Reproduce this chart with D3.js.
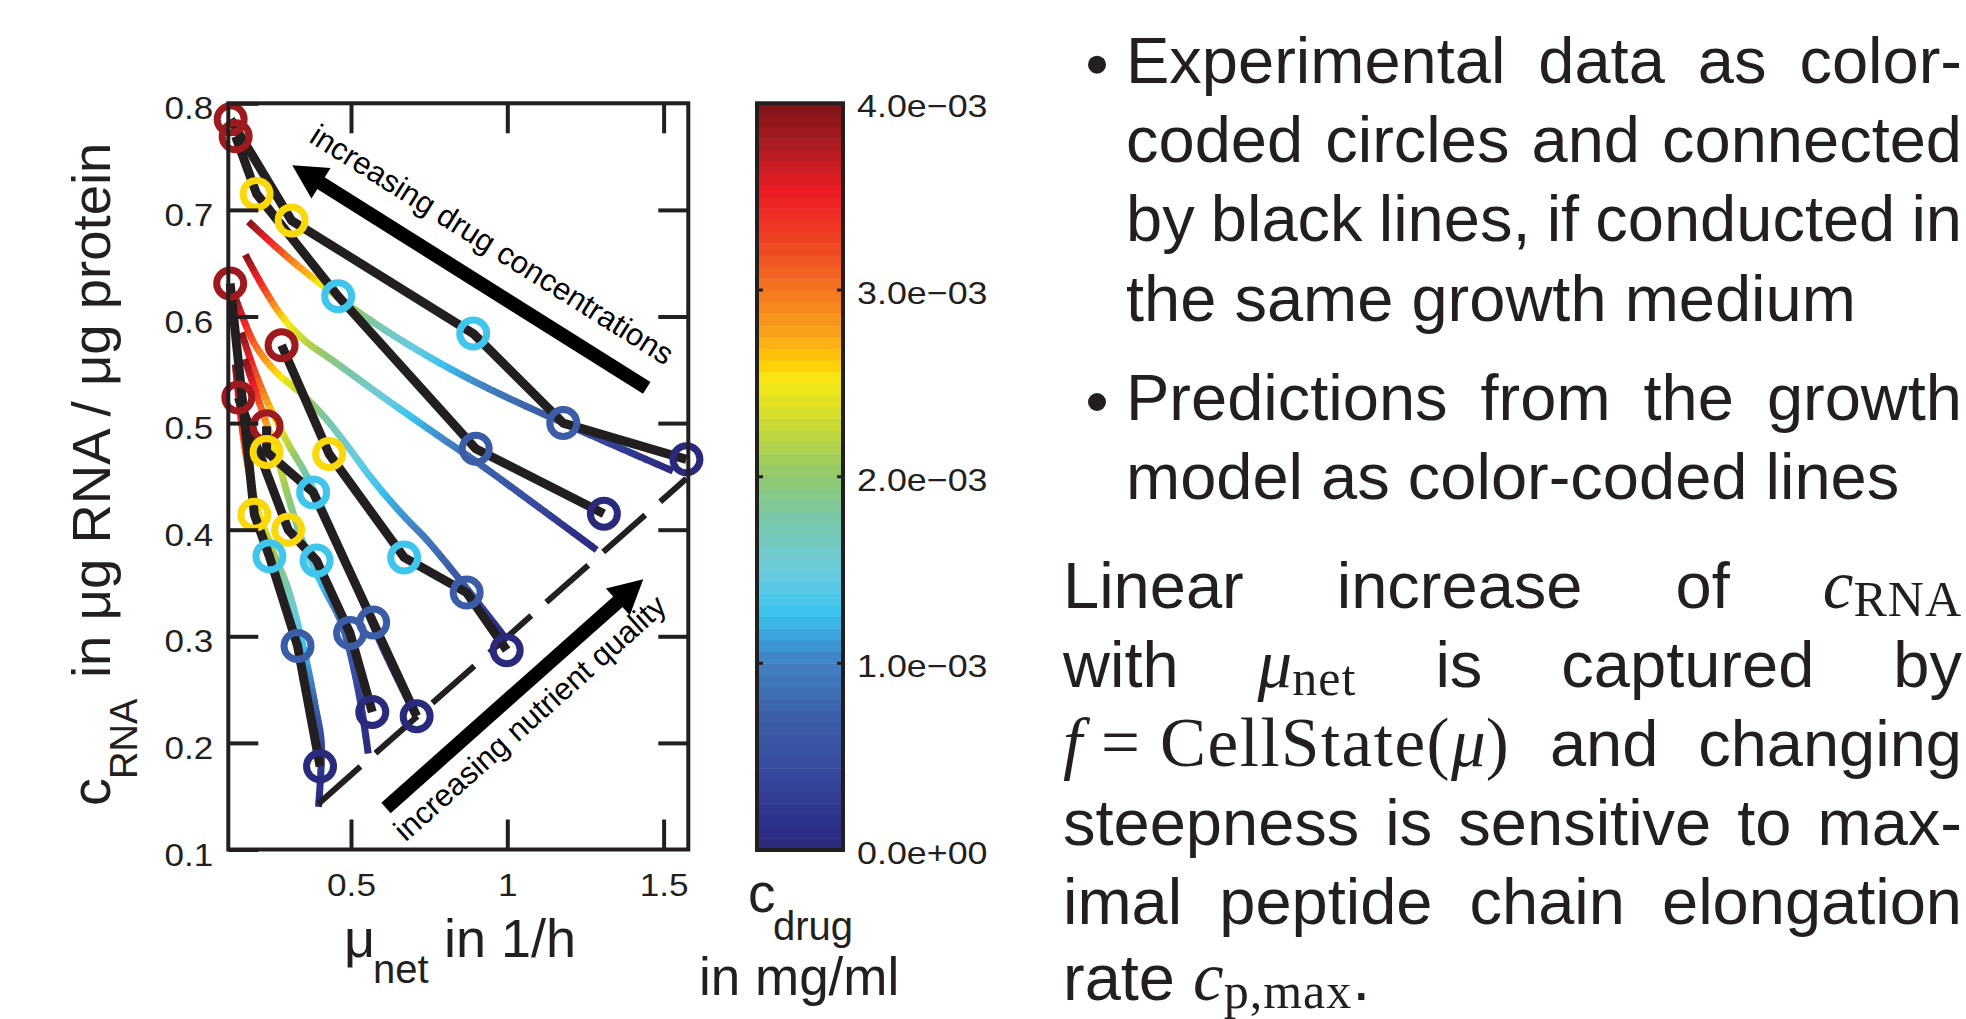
<!DOCTYPE html>
<html>
<head>
<meta charset="utf-8">
<script src="https://cdn.jsdelivr.net/npm/d3@7"></script>
<style>
  body { margin: 0; background: #fff; }
  text { font-family: "Liberation Sans", Arial, sans-serif; fill: #231f20; }
  .serif { font-family: "Liberation Serif", "DejaVu Serif", serif; }
</style>
</head>
<body>
<svg id="fig" width="1966" height="1019"></svg>
<script>
  // ---- data ----
  // experiments: one row per growth medium, points ordered from high to low drug
  var expDrug = [3.85e-3, 2.57e-3, 1.3e-3, 0.7e-3, 0];
  var expMu = [
    [0.115, 0.310, 0.891, 1.179, 1.573],
    [0.131, 0.198, 0.459, 0.899, 1.309],
    [0.278, 0.430, 0.670, 0.870, 0.998],
    [0.230, 0.230, 0.379, 0.571, 0.710],
    [0.1395, 0.299, 0.390, 0.497, 0.568],
    [0.1135, 0.191, 0.239, 0.329, 0.401]
  ];
  var expRna = [
    [0.785, 0.690, 0.584, 0.500, 0.466],
    [0.769, 0.715, 0.619, 0.476, 0.415],
    [0.573, 0.471, 0.374, 0.341, 0.287],
    [0.497, 0.473, 0.435, 0.313, 0.225],
    [0.524, 0.400, 0.371, 0.303, 0.229],
    [0.631, 0.414, 0.375, 0.291, 0.178]
  ];

  // model predictions (one curve per medium)
  var modelMu = [
    [0.172, 0.30, 0.445, 0.60, 0.78, 0.95, 1.18, 1.53],
    [0.162, 0.22, 0.28, 0.35, 0.45, 0.60, 0.785, 0.90, 1.05, 1.286],
    [0.125, 0.19, 0.26, 0.34, 0.417, 0.49, 0.566, 0.662, 0.747, 0.87, 0.99],
    [0.15, 0.19, 0.24, 0.30, 0.35, 0.40, 0.46, 0.52, 0.60, 0.70],
    [0.16, 0.20, 0.235, 0.26, 0.30, 0.34, 0.38, 0.417, 0.47, 0.523, 0.555],
    [0.13, 0.15, 0.17, 0.20, 0.25, 0.30, 0.354, 0.386, 0.405, 0.396]
  ];
  var modelRna = [
    [0.689, 0.655, 0.621, 0.589, 0.557, 0.531, 0.500, 0.455],
    [0.658, 0.627, 0.600, 0.578, 0.557, 0.525, 0.487, 0.464, 0.432, 0.381],
    [0.622, 0.575, 0.548, 0.528, 0.505, 0.478, 0.448, 0.415, 0.389, 0.345, 0.30],
    [0.585, 0.55, 0.515, 0.48, 0.455, 0.425, 0.385, 0.345, 0.29, 0.23],
    [0.56, 0.525, 0.495, 0.472, 0.43, 0.393, 0.365, 0.343, 0.312, 0.25, 0.19],
    [0.555, 0.50, 0.46, 0.42, 0.38, 0.343, 0.281, 0.234, 0.20, 0.14]
  ];
  var modelDrug = [
    [4.0e-3, 3.0e-3, 2.3e-3, 1.7e-3, 1.3e-3, 0.95e-3, 0.6e-3, 0],
    [4.0e-3, 3.3e-3, 2.6e-3, 2.25e-3, 1.9e-3, 1.5e-3, 1.05e-3, 0.8e-3, 0.5e-3, 0],
    [4.0e-3, 3.1e-3, 2.6e-3, 2.2e-3, 1.8e-3, 1.55e-3, 1.35e-3, 1.1e-3, 0.9e-3, 0.55e-3, 0],
    [4.0e-3, 3.3e-3, 2.7e-3, 2.2e-3, 1.8e-3, 1.4e-3, 1.1e-3, 0.8e-3, 0.45e-3, 0],
    [4.0e-3, 3.3e-3, 2.7e-3, 2.4e-3, 2.0e-3, 1.7e-3, 1.4e-3, 1.2e-3, 0.8e-3, 0.35e-3, 0],
    [4.0e-3, 3.4e-3, 3.0e-3, 2.6e-3, 2.1e-3, 1.7e-3, 1.2e-3, 0.7e-3, 0.35e-3, 0]
  ];

  // zero-drug line and the two annotation arrows (tail, tip)
  var zeroDrugLine = [[0.396, 0.143], [1.573, 0.448]];
  var arrowDrug = [[1.446, 0.533], [0.312, 0.742]];
  var arrowNutrient = [[0.612, 0.139], [1.435, 0.3535]];
  var noteDrug = [0.933, 0.659];
  var noteNutrient = [1.095, 0.216];

  var xTicks = [0.5, 1, 1.5];
  var xTickLabels = ['0.5', '1', '1.5'];
  var yTicks = [0.1, 0.2, 0.3, 0.4, 0.5, 0.6, 0.7, 0.8];
  var cbTicks = [0, 1e-3, 2e-3, 3e-3, 4e-3];
  var cbTickLabels = ['0.0e+00', '1.0e\u221203', '2.0e\u221203', '3.0e\u221203', '4.0e\u221203'];

  // colour map of the colour bar
  var cmapStops = [0, 0.16e-3, 0.44e-3, 0.71e-3, 1.01e-3, 1.15e-3, 1.28e-3, 1.5e-3, 1.78e-3, 2.05e-3,
    2.27e-3, 2.51e-3, 2.62e-3, 2.76e-3, 2.98e-3, 3.22e-3, 3.52e-3, 3.8e-3, 4e-3];
  var cmapColors = ['#2a2a7c', '#2c3189', '#3a4ca0', '#3b5ea8', '#4282c3', '#3aa4dc', '#3cc4ef', '#6ccbdc',
    '#78c8a8', '#98ca64', '#c8d834', '#f5ea14', '#ffcb05', '#f9a51a', '#f57a20', '#ef4a24', '#ee1c24',
    '#a81c22', '#7e1416'];

  var ink = '#231f20';
  var svg = d3.select('#fig');

  var plot = { left: 228.3, right: 688.3, top: 103.3, bottom: 849.5 };
  var x = d3.scaleLinear().domain([0.1075, 1.579]).range([plot.left, plot.right]);
  var y = d3.scaleLinear().domain([0.1, 0.8]).range([plot.bottom, plot.top]);
  var color = d3.scaleLinear().domain(cmapStops).range(cmapColors);

  // ---- model curves, coloured by drug concentration along the curve ----
  var gModel = svg.append('g');
  modelMu.forEach(function(mus, i) {
    var pts = mus.map(function(m, j) { return [x(m), y(modelRna[i][j])]; });
    var d = d3.line().curve(d3.curveCatmullRom.alpha(0.5))(pts);
    var tmp = gModel.append('path').attr('d', d).attr('fill', 'none');
    var node = tmp.node();
    var L = node.getTotalLength();
    var drugAt = d3.scaleLinear().domain(modelRna[i]).range(modelDrug[i]).clamp(true);
    var n = Math.ceil(L / 6);
    for (var k = 0; k < n; k++) {
      var s0 = k * L / n, s1 = (k + 1) * L / n;
      var pm = node.getPointAtLength((s0 + s1) / 2);
      gModel.append('path')
        .attr('d', d)
        .attr('fill', 'none')
        .attr('stroke', color(drugAt(y.invert(pm.y))))
        .attr('stroke-width', 7)
        .attr('stroke-dasharray', '0,' + s0 + ',' + (s1 - s0 + 0.7) + ',' + (L + 10));
    }
    tmp.remove();
  });

  // zero-drug dashed line
  svg.append('path')
    .attr('d', d3.line()(zeroDrugLine.map(function(p) { return [x(p[0]), y(p[1])]; })))
    .attr('stroke', ink)
    .attr('stroke-width', 6)
    .attr('stroke-dasharray', '56,20')
    .attr('fill', 'none');

  // experiments: black lines then colour-coded circles
  var gExp = svg.append('g');
  expMu.forEach(function(mus, i) {
    gExp.append('path')
      .attr('d', d3.line()(mus.map(function(m, j) { return [x(m), y(expRna[i][j])]; })))
      .attr('fill', 'none')
      .attr('stroke', ink)
      .attr('stroke-width', 9)
      .attr('stroke-linejoin', 'round');
  });
  expMu.forEach(function(mus, i) {
    gExp.selectAll(null)
      .data(mus)
      .enter()
      .append('circle')
      .attr('cx', function(m) { return x(m); })
      .attr('cy', function(m, j) { return y(expRna[i][j]); })
      .attr('r', 13.5)
      .attr('fill', 'none')
      .attr('stroke', function(m, j) { return color(expDrug[j]); })
      .attr('stroke-width', 7);
  });

  // arrows
  function drawArrow(pair) {
    var x0 = x(pair[0][0]), y0 = y(pair[0][1]), x1 = x(pair[1][0]), y1 = y(pair[1][1]);
    var dx = x1 - x0, dy = y1 - y0, len = Math.hypot(dx, dy), ux = dx / len, uy = dy / len;
    var hl = 34, hw = 18;
    var bx = x1 - ux * hl, by = y1 - uy * hl;
    svg.append('line')
      .attr('x1', x0).attr('y1', y0).attr('x2', bx + ux * 2).attr('y2', by + uy * 2)
      .attr('stroke', '#000').attr('stroke-width', 14);
    svg.append('path')
      .attr('d', 'M' + x1 + ',' + y1 + 'L' + (bx - uy * hw) + ',' + (by + ux * hw) +
        'L' + (bx + uy * hw) + ',' + (by - ux * hw) + 'Z')
      .attr('fill', '#000');
    return Math.atan2(dy, dx) * 180 / Math.PI;
  }
  var angDrug = drawArrow(arrowDrug) + 180;
  var angNut = drawArrow(arrowNutrient);

  svg.append('text')
    .attr('transform', 'translate(' + x(noteDrug[0]) + ',' + y(noteDrug[1]) + ') rotate(' + angDrug + ')')
    .attr('text-anchor', 'middle')
    .attr('font-size', 31)
    .style('fill', '#000')
    .text('increasing drug concentrations');
  svg.append('text')
    .attr('transform', 'translate(' + x(noteNutrient[0]) + ',' + y(noteNutrient[1]) + ') rotate(' + angNut + ')')
    .attr('text-anchor', 'middle')
    .attr('font-size', 31)
    .style('fill', '#000')
    .text('increasing nutrient quality');

  // ---- axes ----
  function styleAxis(g) {
    g.select('.domain').remove();
    g.selectAll('.tick line').attr('stroke', ink).attr('stroke-width', 4);
    g.attr('font-family', null).attr('font-size', null);
  }
  svg.append('g')
    .attr('transform', 'translate(0,' + plot.bottom + ')')
    .call(d3.axisBottom(x).tickValues(xTicks).tickSize(-30).tickSizeOuter(0).tickPadding(24)
      .tickFormat(function(d, i) { return xTickLabels[i]; }))
    .call(styleAxis)
    .selectAll('text')
    .attr('font-size', 32)
    .attr('transform', 'scale(1.1,1)');
  svg.append('g')
    .attr('transform', 'translate(0,' + plot.top + ')')
    .call(d3.axisTop(x).tickValues(xTicks).tickSize(-30).tickSizeOuter(0).tickFormat(''))
    .call(styleAxis);
  svg.append('g')
    .attr('transform', 'translate(' + plot.left + ',0)')
    .call(d3.axisLeft(y).tickValues(yTicks).tickSize(-30).tickSizeOuter(0).tickFormat(d3.format('.1f')))
    .call(styleAxis)
    .selectAll('text')
    .attr('font-size', 31)
    .attr('x', -15 / 1.13)
    .attr('dy', '0.5em')
    .attr('transform', 'scale(1.13,1)');
  svg.append('g')
    .attr('transform', 'translate(' + plot.right + ',0)')
    .call(d3.axisRight(y).tickValues(yTicks.slice(1, -1)).tickSize(-30).tickSizeOuter(0).tickFormat(''))
    .call(styleAxis);
  svg.append('rect')
    .attr('x', plot.left).attr('y', plot.top)
    .attr('width', plot.right - plot.left).attr('height', plot.bottom - plot.top)
    .attr('fill', 'none').attr('stroke', ink).attr('stroke-width', 4);

  // axis titles
  svg.append('text').attr('x', 344).attr('y', 957).attr('font-size', 54).text('\u03bc');
  svg.append('text').attr('x', 373).attr('y', 983).attr('font-size', 40).text('net');
  svg.append('text').attr('x', 444).attr('y', 957).attr('font-size', 54).text('in 1/h');

  var yTitle = svg.append('g').attr('transform', 'translate(110,806) rotate(-90)');
  yTitle.append('text').attr('x', 0).attr('y', 0).attr('font-size', 56).text('c');
  yTitle.append('text').attr('x', 27).attr('y', 27).attr('font-size', 38).text('RNA');
  yTitle.append('text').attr('x', 128).attr('y', 0).attr('font-size', 54.5).text('in \u03bcg RNA / \u03bcg protein');

  // ---- colour bar ----
  var cb = { left: 757, right: 843, top: 103.3, bottom: 850 };
  var cbY = d3.scaleLinear().domain([0, 4e-3]).range([cb.bottom, cb.top]);
  var nBands = 64;
  svg.append('g').selectAll('rect')
    .data(d3.range(nBands))
    .enter()
    .append('rect')
    .attr('x', cb.left)
    .attr('width', cb.right - cb.left)
    .attr('y', function(i) { return cbY((i + 1) * 4e-3 / nBands); })
    .attr('height', function(i) { return cbY(i * 4e-3 / nBands) - cbY((i + 1) * 4e-3 / nBands) + 0.5; })
    .attr('fill', function(i) { return color((i + 0.5) * 4e-3 / nBands); });
  svg.append('rect')
    .attr('x', cb.left).attr('y', cb.top)
    .attr('width', cb.right - cb.left).attr('height', cb.bottom - cb.top)
    .attr('fill', 'none').attr('stroke', ink).attr('stroke-width', 4);
  var cbInner = cbTicks.slice(1, -1);
  svg.append('g').selectAll('path')
    .data(cbInner)
    .enter()
    .append('path')
    .attr('d', function(v) {
      return 'M' + cb.left + ',' + cbY(v) + 'h6M' + cb.right + ',' + cbY(v) + 'h-6';
    })
    .attr('stroke', ink).attr('stroke-width', 3);
  svg.append('g').selectAll('text')
    .data(cbTicks)
    .enter()
    .append('text')
    .attr('transform', function(v) { return 'translate(857,' + (cbY(v) + 14) + ') scale(1.12,1)'; })
    .attr('font-size', 32)
    .text(function(v, i) { return cbTickLabels[i]; });

  svg.append('text').attr('x', 748).attr('y', 912).attr('font-size', 55).text('c');
  svg.append('text').attr('x', 773).attr('y', 940).attr('font-size', 40).text('drug');
  svg.append('text').attr('x', 699).attr('y', 995).attr('font-size', 53).text('in mg/ml');

  // ---- justified text block on the right ----
  var C_RNA = [{ t: 'c', f: 'mi' }, { t: 'RNA', f: 'sub' }];
  var MU_NET = [{ t: '\u03bc', f: 'mi' }, { t: 'net', f: 'sub' }];
  var F_CELL = [{ t: 'f', f: 'mi' }, { t: ' = CellState(', f: 'mr' }, { t: '\u03bc', f: 'mi' }, { t: ')', f: 'mr' }];
  var C_PMAX = [{ t: 'c', f: 'mi' }, { t: 'p,max', f: 'sub' }, { t: '.', f: 'sans' }];

  var textLines = [
    { bullet: true, just: true, words: ['Experimental', 'data', 'as', 'color-'] },
    { just: true, words: ['coded', 'circles', 'and', 'connected'] },
    { just: true, words: ['by', 'black', 'lines,', 'if', 'conducted', 'in'] },
    { just: false, words: ['the', 'same', 'growth', 'medium'] },
    { bullet: true, just: true, words: ['Predictions', 'from', 'the', 'growth'] },
    { just: false, words: ['model', 'as', 'color-coded', 'lines'] },
    { para: true, just: true, words: ['Linear', 'increase', 'of', C_RNA] },
    { para: true, just: true, words: ['with', MU_NET, 'is', 'captured', 'by'] },
    { para: true, just: true, words: [F_CELL, 'and', 'changing'] },
    { para: true, just: true, words: ['steepness', 'is', 'sensitive', 'to', 'max-'] },
    { para: true, just: true, words: ['imal', 'peptide', 'chain', 'elongation'] },
    { para: true, just: false, words: ['rate', C_PMAX] }
  ];
  var baselines = [82.7, 162, 241.3, 320.6, 420, 499.3, 608, 687, 766, 845, 924, 1000];
  var fs = 65, rightEdge = 1962;

  function addWord(w, yb) {
    var t = svg.append('text').attr('y', yb).attr('font-size', fs).style('white-space', 'pre');
    if (typeof w === 'string') { t.text(w); return t; }
    var shift = 0;
    w.forEach(function(p) {
      var s = t.append('tspan').text(p.t);
      var target = 0;
      if (p.f === 'mi') s.attr('class', 'serif').attr('font-style', 'italic').attr('font-size', 69);
      if (p.f === 'mr') s.attr('class', 'serif').attr('font-size', 69).attr('letter-spacing', 1.5);
      if (p.f === 'sub') { s.attr('class', 'serif').attr('font-size', 50).attr('letter-spacing', 1); target = 8; }
      if (target !== shift) { s.attr('dy', target - shift); shift = target; }
    });
    return t;
  }

  textLines.forEach(function(line, i) {
    var yb = baselines[i];
    var x0 = line.para ? 1063 : 1126;
    if (line.bullet) {
      svg.append('circle').attr('cx', 1097).attr('cy', yb - 18).attr('r', 9).attr('fill', ink);
    }
    var nodes = line.words.map(function(w) { return addWord(w, yb); });
    var widths = nodes.map(function(t) { return t.node().getComputedTextLength(); });
    var total = d3.sum(widths);
    var gap = line.just ? (rightEdge - x0 - total) / (nodes.length - 1) : fs * 0.278;
    var cx = x0;
    nodes.forEach(function(t, j) {
      t.attr('x', cx);
      cx += widths[j] + gap;
    });
  });
</script>
</body>
</html>
